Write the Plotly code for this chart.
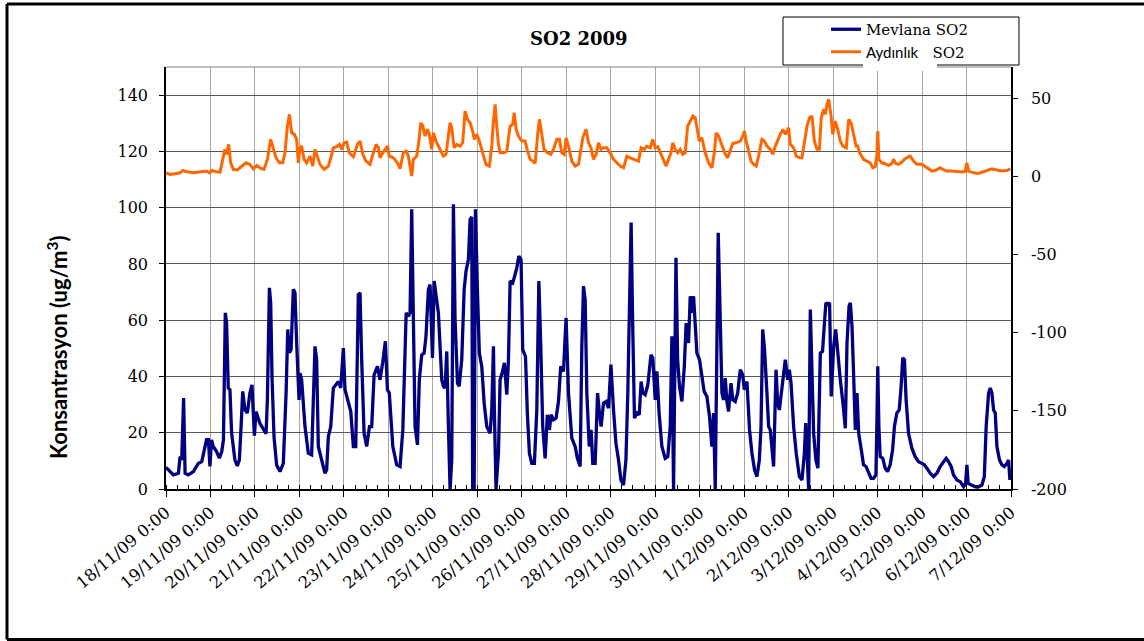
import pandas as pd
import plotly.graph_objects as go

# hours after 18/11/09 0:00 at peaks and troughs
mevlana_hours = [
    0, 4, 6.7, 7.6, 8.5, 9.5, 10.3, 12, 14.8, 17.4, 19.3, 20.1, 21.9, 22.9, 23.7, 24.6, 25.5, 27.3, 28.8, 30.1,
    31, 32, 32.7, 33.6, 34.5, 35.4, 37.2, 38.5, 39.6, 40.5, 41.4, 42.6, 43.9, 45.3, 46.4, 47.7, 48.6, 50.7, 52.5, 54,
    54.7, 55.8, 56.5, 57.2, 58.3, 59.7, 61.5, 63.3, 64.8, 65.7, 66.6, 67.5, 68.7, 69.6, 70.5, 71.8,
    72.3, 73.2, 75, 76.8, 78.6, 79.5, 80.4, 81.3, 82.2, 84, 85.8, 86.7, 87.6, 88.9, 90.3, 91.6, 93, 94.3, 95.7, 96.6,
    98.4, 99.7, 101.1, 102.4, 103.8, 104.7, 105.6, 106.9, 108.3, 109.8, 111, 112.3, 114.1, 115.5, 116.9, 118.4, 119.5,
    120.5, 122.4, 124.5, 126.3, 127.8, 129.6, 130.8, 131.7, 132.6, 133.5, 134.4, 135.7, 136.7, 138, 139.3, 140.3,
    141.6, 142.5, 143.8, 144.7, 145.7, 147,
    148.8, 149.7, 150.6, 151.5, 152.4, 153.3, 154.2, 155.1, 156, 157.3, 158.2, 159.6, 160.9, 161.9, 163.2, 164.1, 165,
    165.5, 166.3, 167, 168.1, 169.1, 170.4, 171.7, 173.1, 174.9, 175.8, 176.7, 177.2, 178.1, 179.4, 180.3, 181.6,
    182.6, 183.9, 184.8, 185.7, 187.1, 187.9, 189.3, 190.4, 191.6, 192.5, 194, 195, 196.1, 197.4, 198.8, 200.1, 201.2,
    202.2, 203.3, 204.6, 205.8, 206.9, 207.8, 209.1, 210.5, 211.8, 213, 214.5, 215.9, 217.2, 219, 220.8, 222,
    223.5, 224.4, 225.3, 226.2, 227.1, 228.4, 229.4, 230.3, 231.6, 232.9, 233.9, 234.8, 236.1, 237.5, 238.8, 240.1,
    241.5, 242.8, 244.2, 245.5, 246.9, 248.2, 249.2, 250.1, 251, 251.8, 252.8, 254.1, 255.4, 256.4, 257.3, 258.6, 260,
    261.7, 262.7, 264, 264.9, 266.1, 267.6, 269.4, 270.8, 272.1, 273, 273.9, 274.4, 275.2, 276.1, 277.1, 278.4, 279.7,
    280.7, 282, 282.9, 283.8, 284.7, 285.6, 286.5, 287.9, 289.2, 290.4, 291.9, 293.3, 294.6, 295.5, 296.4, 297.3, 298,
    299.1, 300, 300.9, 301.8, 302.7, 303.6, 304.9, 305.9, 307.2, 308.5, 309.9, 311.2, 312.1, 313.5, 314.9, 316.2,
    317.6, 318.9, 320.2, 321.1, 322, 323, 324.3, 325.2, 326.1, 327.9, 329.2, 330.1, 331, 332, 332.9, 334.2, 335.5,
    336.4, 337.3, 338.7, 340.1, 341.8, 343.2, 344.5, 345.2, 345.9, 346.8, 347.7, 348.6, 349.5, 350.7, 351.8, 353.1,
    354.3, 355.2, 356.1, 357.2, 358.1, 359, 360.3, 361.4, 362.4, 363.9, 365.3, 366.6, 367.5, 368.6, 369.3, 370.2,
    371.1, 372, 372.9, 373.8,
    375.5, 376.4, 377.8, 379.1, 380.5, 381.8, 383.1, 383.6, 384.1, 384.7, 385.4, 386.8, 388.1, 389.4, 390.8, 392.1,
    393.1, 394.4, 395.7, 396.7, 397.6, 398.5, 399.4, 400.7, 402.5, 404.3, 406.1, 407.9, 409.3, 410.6, 412.4, 414.2,
    416, 417.8, 419.6, 421, 422.3, 423.7, 425, 426.8, 428.6, 430.4, 431.5, 432.2, 432.9, 434.5, 436.7, 438.5, 440.3,
    441.6, 442.6, 443.9, 444.8, 445.7, 446.6, 447.5, 448.4, 449.8, 451.1, 452.4, 453.8, 454.7, 455.4,
]
mevlana_so2 = [
    7.7, 5, 5.6, 11.5, 10.3, 32.3, 5.6, 5, 6.2, 9.1, 9.7, 12, 17.5, 17.5, 8, 17.5, 15.1, 13.3, 11, 13.3,
    17.5, 62.6, 59, 35.9, 35.3, 19.9, 10.3, 8.2, 10.3, 22.1, 34.7, 28.1, 27, 34.2, 37, 19, 27.5, 23.3, 21.5, 19.7,
    31.6, 71.5, 66.2, 40, 18.5, 8.5, 6.2, 9.1, 34, 56.7, 48.4, 49.6, 71, 69.8, 52, 31.7,
    41.2, 38.8, 22.2, 12.7, 12.1, 28.1, 50.7, 46, 15.1, 10.3, 5.6, 6.8, 18.6, 22.2, 35.9, 37, 38.2, 35.9, 50.1, 35.3,
    30.5, 27.6, 15.1, 15.1, 69.1, 69.7, 46, 19.8, 15.1, 22.2, 22.2, 40.6, 43.6, 38.8, 44.8, 52.5, 35.3,
    34.1, 15.1, 8.6, 8, 21, 62.6, 61.4, 62.6, 99.4, 60.2, 22.2, 15.7, 38.8, 47.7, 48.3, 54.3,
    70.9, 72.7, 46.6, 73.9, 69.7, 62.6,
    38.8, 36.5, 35.9, 48.9, 22.2, 0, 10.3, 101.2, 60.2, 37.6, 36.5, 46, 70.9, 77.4, 81.6, 95.8, 96.7,
    0, 0, 99.4, 69.7, 48.3, 43.6, 30.5, 22.2, 19.8, 28.1, 50.7, 28.1, 0, 12.7, 38.8, 41.8,
    44.8, 33.5, 46, 73.9, 73.3, 75.1, 78.6, 82.8, 81.6, 49.5, 47.1, 27, 12.7, 9.1, 9.1, 28.1, 73.9,
    51.9, 22.2, 10.9, 26.4, 21, 26.4, 24.6, 25.2, 31.1, 43.6, 41.8, 60.8, 34.1, 18.1, 15.1, 10.9,
    8, 50.7, 72.1, 67.3, 34.1, 15.1, 21, 9.1, 9.1, 34.1, 27, 22.2, 30.5, 31.1, 28.7, 44.2,
    28.1, 16.3, 10.3, 3.2, 1.4, 10.3, 34.1, 69.7, 94.7, 60.2, 25.2, 27, 26.4, 38.2, 34.1, 33.5, 37,
    47.7, 46.6, 31.7, 41.8, 27, 15.1, 10.9, 11.5, 22.2, 54.3, 0, 34.1, 82.2, 46, 36.5, 31.1, 43.6,
    59, 51.9, 68.5, 62.6, 68.5, 60.2, 48.3, 46, 40, 34.7, 32.9, 25.8, 15.1, 27, 0, 48.3, 91.1,
    60.2, 34.1, 31.7, 39.4, 31.1, 27.6, 37.6, 31.7, 31.1, 34.1, 42.4, 40.6, 35.3, 38.2, 21, 12.7,
    6.8, 4.4, 10.3, 22.2, 56.7, 49.5, 34.1, 22.2, 21, 8, 42.4, 30.5, 28.1, 34.1, 40, 46, 38.8,
    42.4, 37.6, 22.2, 12.7, 4.4, 3.2, 12.7, 23.4, 11.5, 0, 63.8, 46, 19.8, 10.3, 7.4, 48.3,
    48.9, 57.8, 66.2, 65.6, 66.2, 32.9, 50.7, 56.7, 48.3, 38.8, 30.5, 21.6, 51.9, 65, 66.2, 57.8,
    40, 21, 34.1, 19.8,
    12.7, 8.6, 8, 5.6, 3.8, 3.8, 5, 22.2, 43.6, 22.2, 11.5, 10.9, 7.4, 6.2, 8.6, 13.9,
    22.2, 27, 28.1, 36.5, 46.6, 46, 31.7, 19.8, 14.5, 11.5, 9.7, 9.1, 8.6, 7.4, 5.6, 4.4,
    5.6, 8, 9.7, 10.9, 9.7, 8, 5, 3.2, 2.6, 0.8, 2, 8.6, 2, 1.4, 0.8, 0.8, 1.4,
    4.4, 22.2, 34.1, 35.9, 34.1, 28.1, 27, 15.1, 10.3, 8.6, 8, 9.1, 10.3, 3.2,
]

aydinlik_hours = [
    0, 2.2, 4.9, 7.6, 9, 11.2, 14.8, 18.4, 21.9, 23.4, 24.6, 27.3, 29.2, 30.6, 31.8, 32.7, 33.8, 34.9, 36.3, 38.5,
    40.8, 43.2, 45.3, 47.1, 48.9, 50.7, 52.9, 54.7, 56.5, 57.9, 59.4, 61.2, 63, 64.2, 65.5, 66.6, 67.8, 69.3, 70.5, 71.4,
    72.3, 73.2, 74.5, 75.9, 77.7, 79.2, 80.4, 81.3, 83.1, 85.3, 87.6, 88.9, 90.3, 92.1, 93.6, 94.8, 96.1, 97.5, 98.9,
    101.1, 103.3, 104.7, 106.2, 107.9, 110.1, 111.9, 113.4, 114.6, 115.5, 117, 118.2, 119.5, 120.5, 122.7, 124.9,
    126.3, 128.1, 129.6, 130.8, 132.1, 132.6, 133.5, 135.3, 136.6, 137.5, 138.6, 139.8, 141.1, 142.1, 143.4, 144.3,
    145.7, 147,
    149.7, 151.1, 152.4, 153.3, 154.2, 155.5, 156.9, 158.7, 160.1, 161.4, 162.7, 164.1, 165.5, 166.4, 167.7, 169.1,
    170.9, 172.7, 174.5, 175.8, 176.7, 177.6, 178.5, 179.4, 180.3, 182.4, 183.9, 185.7, 187.1, 187.9, 189, 190.2, 192,
    193.8, 195.1, 196.5, 197.9, 199.2, 200.5, 201.5, 202.8, 204, 205.8, 207.7, 209.1, 210.9, 212.3, 213.6, 214.9,
    215.9, 217.2, 219, 220.8, 222.6,
    224.9, 226.7, 228, 229.3, 230.7, 232.1, 233.4, 234.7, 236.1, 237.9, 239.7, 241.5, 243.3, 245.1, 246.9, 248.7,
    250.5, 253.2, 255, 256.4, 258.1, 259.5, 261.3, 262.7, 264, 265.4, 266.7, 268.5, 269.9, 271.2, 272.5, 273.5, 274.8,
    276.1, 277.5, 278.9, 280.2, 281.5, 282.9, 284.3, 285.6, 286.5, 287.8, 289.2, 291, 292.8, 294.6, 295.9, 296.9,
    298.2, 300,
    301.8, 303.1, 304.5, 305.9, 307.7, 309.9, 311.3, 312.1, 313.1, 314.4, 315.7, 317.1, 318.5, 319.8, 321.6, 322.9,
    324.3, 326.1, 327.5, 328.8, 330.1, 331.5, 332.9, 334.2, 336, 336.9, 338.7, 340.1, 341.9, 343.2, 344.5, 345.9,
    347.3, 348.6, 349.9, 351.3, 352.6, 353.6, 354.9, 355.8, 356.7, 357.6, 358.9, 359.8, 361.2, 362.5, 363.9, 365.3,
    367.1, 368.4, 369.7, 371.1, 372.4, 373.3, 374.3,
    376.4, 378.2, 380, 381.4, 382.7, 383.6, 384.1, 384.7, 386.3, 388.1, 389.9, 391.7, 392.6, 393.9, 395.3, 397.1,
    398.9, 400.7, 401.6, 403.4, 405.2, 407.9, 409.7, 411.5, 413.3, 415.6, 417.8, 419.2, 421.4, 424.1, 426.8, 429.5,
    431.3, 432.2, 433.1, 435.8, 438.5, 440.8, 443, 445.7, 448.4, 451.1, 453.8, 455.6,
]
aydinlik_so2 = [
    2.3, 1.3, 1.7, 2.3, 3.8, 3, 2.3, 2.8, 3.4, 2.3, 3.8, 3, 2.8, 10.9, 17.3, 14.1, 20.5, 8.7, 4.5, 4.1,
    6.2, 8.7, 7.7, 4.9, 7, 5.5, 4.5, 10.9, 23.7, 17.3, 11.9, 8.7, 8.7, 15.1, 32.2, 39.7, 27.9, 26.9, 23.7, 8.7,
    18.3, 19.4, 10.9, 8.7, 13, 6.6, 17.3, 14.1, 7.7, 4.5, 6.6, 11.9, 18.3, 19, 20.5, 17.3, 21.5, 22, 15.1,
    12.6, 20.5, 22.6, 14.1, 9.8, 7.7, 15.1, 20.5, 18.3, 11.9, 15.1, 17.3, 19.4, 13, 11.9, 8.7,
    4.9, 15.1, 16.2, 13, 4.5, 0.2, 10.9, 13, 23.7, 34.3, 32.2, 25.8, 30.1, 26.9, 17.3, 27.9,
    22.6, 19.4,
    13, 14.1, 24.7, 34.3, 31.1, 18.3, 20.5, 19.4, 21.5, 41.8, 36.5, 34.3, 29, 23.7, 26.9, 22.6,
    15.1, 7.7, 6.6, 19.4, 35.4, 46.1, 32.2, 20.5, 15.1, 15.1, 16.2, 32.2, 33.3, 40.7, 30.1, 25.8, 22.6,
    22.6, 16.2, 10.9, 9.8, 8.3, 25.8, 36.5, 26.9, 17.3, 15.1, 14.1, 17.3, 23.7, 23.7, 15.1, 14.1,
    24.7, 19.4, 9.8, 6.6, 7.7,
    24.7, 30.1, 21.5, 18.3, 10.9, 14.1, 21.5, 17.3, 18.3, 18.3, 15.1, 10.9, 8.7, 6.6, 5.5, 13,
    11.9, 10.9, 9.8, 18.3, 17.3, 19.4, 18.3, 23.7, 18.3, 19, 15.1, 10.9, 6.6, 10.9, 15.1, 21.5, 17.3,
    15.1, 17.3, 14.1, 15.1, 32.2, 35.4, 38.6, 37.5, 32.2, 22.6, 24.7, 15.1, 8.7, 5.5, 15.1, 27.9,
    25.8, 19.4,
    14.1, 11.9, 17.3, 21.1, 21.5, 22.6, 25.8, 29, 22.6, 16.2, 9.8, 7.7, 6.6, 13, 23.7, 22.6,
    19.4, 17.3, 14.1, 19.4, 23.7, 26.9, 30.1, 26.9, 31.1, 20.5, 18.3, 13, 11.9, 11.9, 21.5, 32.2,
    37.5, 38.6, 22.6, 17.3, 17.3, 37.5, 42.9, 39.7, 46.1, 49.3, 38.6, 26.9, 35.4, 30.1, 22.6, 19.4,
    18.3, 36.5, 34.3, 25.8, 19.4, 19.4, 15.1,
    10.9, 9.8, 8.7, 5.5, 6.2, 13, 29, 10.9, 8.7, 8.1, 7, 8.3, 10.9, 8.3, 7.7, 9.2,
    11.3, 12.6, 13, 9.8, 7.7, 7.7, 6.2, 4.5, 3.4, 4.1, 5.5, 4.5, 3.4, 3.4, 3, 2.8,
    3.2, 8.7, 3.4, 2.3, 1.9, 3, 3.8, 4.9, 4.1, 3.4, 3.8, 4.9,
]

right_ticks = [-200, -150, -100, -50, 0, 50]
right_tick_text = ["-200", "-150", "-100", "-50", "0", "50"]

start = pd.Timestamp("2009-11-18 00:00")
end = pd.Timestamp("2009-12-07 00:00")
mevlana_time = start + pd.to_timedelta(mevlana_hours, unit="h")
aydinlik_time = start + pd.to_timedelta(aydinlik_hours, unit="h")

W, H = 1144, 641
L, R, T, B = 166, 1011, 67, 489  # plot area in pixels


def px(x):
    return (x - L) / (R - L)


def py(y):
    return (B - y) / (B - T)


serif = "DejaVu Serif"

fig = go.Figure()
fig.add_trace(go.Scatter(x=mevlana_time, y=mevlana_so2, mode="lines", name="Mevlana SO2",
                         legendgroup="a", line=dict(color="#000080", width=3.3)))
fig.add_trace(go.Scatter(x=aydinlik_time, y=aydinlik_so2, mode="lines", yaxis="y2",
                         name="<span style='font-family:Lato'>Aydınlık</span>\u00a0\u00a0\u00a0SO2",
                         legendgroup="b", line=dict(color="#FF6600", width=3)))

frame = dict(color="black", width=3)
shapes = [
    # outer frame: left, top, bottom (no right edge inside the picture)
    dict(type="line", xref="paper", yref="paper", x0=px(7), x1=px(7), y0=py(4), y1=py(639.5),
         line=frame, layer="above"),
    dict(type="line", xref="paper", yref="paper", x0=px(7), x1=px(1144), y0=py(4), y1=py(4),
         line=frame, layer="above"),
    dict(type="line", xref="paper", yref="paper", x0=px(7), x1=px(1144), y0=py(639.5), y1=py(639.5),
         line=frame, layer="above"),
    # top edge of plot area
    dict(type="line", xref="paper", yref="paper", x0=0, x1=1, y0=1, y1=1,
         line=dict(color="#808080", width=1), layer="above"),
    # legend box
    dict(type="rect", xref="paper", yref="paper", x0=px(783), x1=px(1019), y0=py(17), y1=py(65),
         line=dict(color="black", width=1), fillcolor="white", layer="above"),
    # white patch behind "Aydınlık"
    dict(type="rect", xref="paper", yref="paper", x0=px(863), x1=px(937), y0=py(48), y1=py(71),
         line=dict(width=0), fillcolor="white", layer="above"),
]

annotations = [
    dict(text="<b>SO2 2009</b>", xref="paper", yref="paper", x=px(579), y=py(39),
         xanchor="center", yanchor="middle", showarrow=False,
         font=dict(family=serif, size=18, color="black")),
    dict(text="<b>Konsantrasyon (ug/m<sup>3</sup>)</b>", xref="paper", yref="paper",
         x=px(57), y=py(347), textangle=-90, xanchor="center", yanchor="middle",
         showarrow=False, font=dict(family="Lato", size=22, color="black")),
]

fig.update_layout(
    width=W, height=H,
    margin=dict(l=L, r=W - R, t=T, b=H - B),
    paper_bgcolor="white", plot_bgcolor="white",
    showlegend=True,
    legend=dict(x=px(826), y=py(13), xanchor="left", yanchor="top",
                bgcolor="rgba(0,0,0,0)", borderwidth=0, tracegroupgap=0,
                font=dict(family=serif, size=15, color="black")),
    xaxis=dict(
        type="date", range=[start, end], tick0=start, dtick=86400000,
        tickformat="%-d/%m/%y %-H:%M", tickangle=-40,
        tickfont=dict(family=serif, size=16.5, color="black"),
        ticks="outside", ticklen=6, tickcolor="black",
        minor=dict(dtick=21600000, ticks="inside", ticklen=4, tickcolor="black", showgrid=False),
        showgrid=True, gridcolor="#a6a6a6", gridwidth=1,
        showline=True, linecolor="black", linewidth=1.5, zeroline=False,
    ),
    yaxis=dict(
        range=[0, 150], tick0=0, dtick=20,
        tickfont=dict(family=serif, size=16, color="black"),
        ticks="outside", ticklen=5, tickcolor="black", ticklabelstandoff=8,
        showgrid=True, gridcolor="#595959", gridwidth=1.2,
        showline=True, linecolor="black", linewidth=1.5, zeroline=False,
    ),
    yaxis2=dict(
        overlaying="y", side="right", range=[-200, 70],
        tickmode="array", tickvals=right_ticks, ticktext=right_tick_text,
        tickfont=dict(family=serif, size=16, color="black"),
        ticks="outside", ticklen=5, tickcolor="black", ticklabelstandoff=10,
        showgrid=False, showline=True, linecolor="black", linewidth=1.5, zeroline=False,
    ),
    shapes=shapes,
    annotations=annotations,
)

fig.write_html(
    "out.html", config={"displayModeBar": False},
    post_script="document.body.style.margin='0';"
                "document.body.style.overflow='hidden';"
                "document.documentElement.style.overflow='hidden';",
)
